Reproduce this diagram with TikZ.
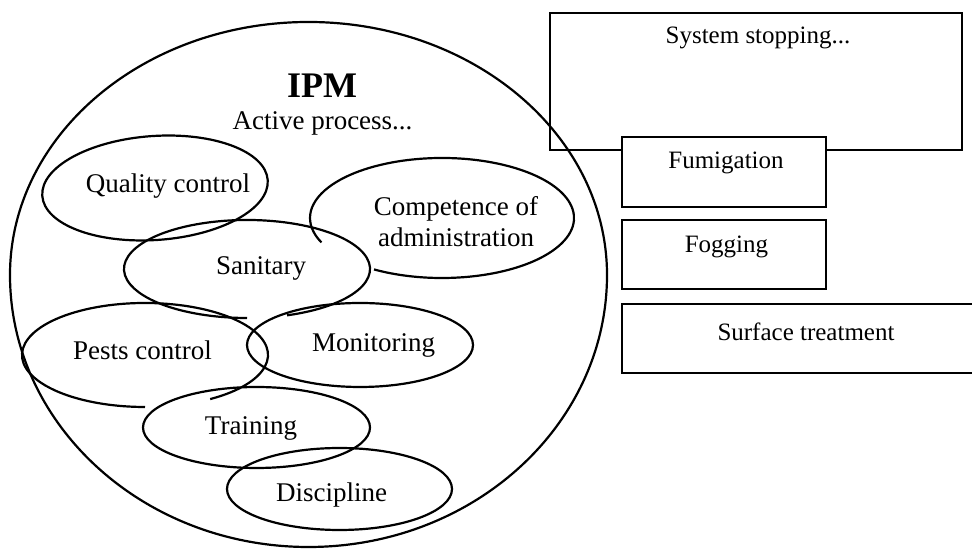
\documentclass[tikz,border=0pt]{standalone}
\usepackage{fontspec}
\setmainfont{Liberation Serif}
\usetikzlibrary{shapes.geometric}
\tikzset{
  outline/.style={
    draw=black, line width=1.1pt
  },
  boxnode/.style={
    rectangle,
    draw=black, line width=1.1pt,
    fill=white,
    inner sep=0pt
  },
  blobtext/.style={
    font=\fontsize{13.5}{15.5}\selectfont,
    align=center,
    inner sep=0pt
  },
  boxtext/.style={
    font=\fontsize{12.5}{15}\selectfont,
    inner sep=0pt
  }
}

\begin{document}
\begin{tikzpicture}[x=0.5pt, y=0.5pt]
  \useasboundingbox (0,0) rectangle (972,549);

  % treatment boxes on the right
  \node[boxnode, fill=none, minimum width=206pt, minimum height=68.5pt] (stop) at (756,467.5) {};
  \node[boxtext] (stoptxt) at (758,511) {System stopping...};
  \node[boxnode, minimum width=102pt, minimum height=35pt] (fum) at (724,377) {};
  \node[boxtext] (fumtxt) at (726,386) {Fumigation};
  \node[boxnode, minimum width=102pt, minimum height=34.5pt] (fog) at (724,294.5) {};
  \node[boxtext] (fogtxt) at (726.5,302) {Fogging};
  \node[boxnode, minimum width=184pt, minimum height=34.5pt] (surf) at (806,210.5) {};
  \node[boxtext] (surftxt) at (806,217) {Surface treatment};

  % IPM outline (upper and lower halves differ a bit)
  \draw[outline] (10,274) arc[start angle=180, end angle=0, x radius=298.5, y radius=253]
    arc[start angle=0, end angle=-180, x radius=298.5, y radius=272];
  \node[font=\bfseries\fontsize{18}{20}\selectfont, inner sep=0pt] (ipm) at (322,463.5) {IPM};
  \node[blobtext] (active) at (322.5,426) {Active process...};

  % inner ellipses, some left open where others cross them
  \draw[outline, rotate around={4:(155,361)}] (155,361) ellipse [x radius=113, y radius=52];
  \draw[outline] (442,331) ++(239:132 and 60) arc[start angle=239, end angle=564, x radius=132, y radius=60];
  \draw[outline] (247,280) ++(289:123 and 49) arc[start angle=289, end angle=630, x radius=123, y radius=49];
  \draw[outline] (145,194) ++(302:123 and 52) arc[start angle=302, end angle=630, x radius=123, y radius=52];
  \draw[outline] (360,204) ellipse [x radius=113, y radius=42];
  \draw[outline] (256.5,121.5) ellipse [x radius=113.5, y radius=40.5];
  \draw[outline] (339.5,60) ellipse [x radius=112.5, y radius=41];

  \node[blobtext] (qctxt) at (168,363) {Quality control};
  \node[blobtext] (comptxt) at (456,327) {Competence of\\administration};
  \node[blobtext] (santxt) at (261,281) {Sanitary};
  \node[blobtext] (peststxt) at (142.5,199) {Pests control};
  \node[blobtext] (montxt) at (373.5,204) {Monitoring};
  \node[blobtext] (traintxt) at (251,121) {Training};
  \node[blobtext] (disctxt) at (331.5,54) {Discipline};
\end{tikzpicture}
\end{document}
